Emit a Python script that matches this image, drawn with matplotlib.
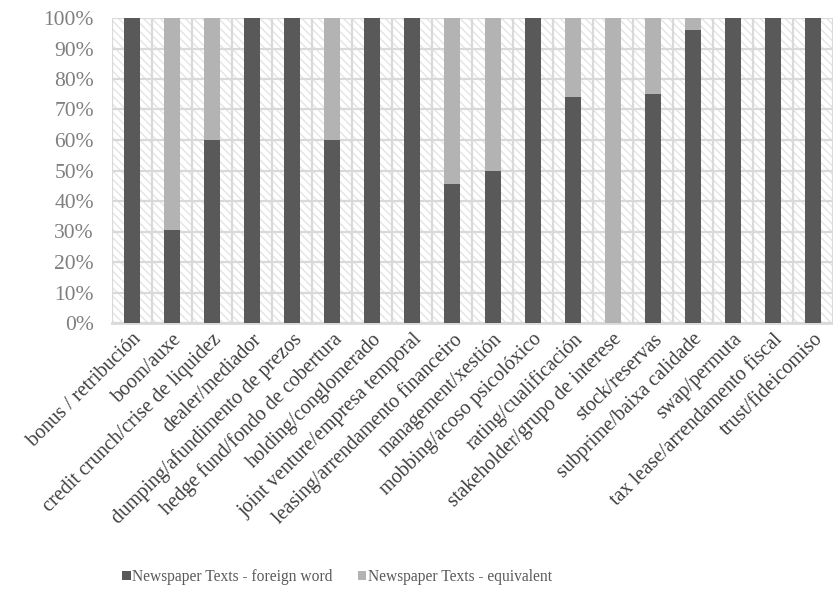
import matplotlib.pyplot as plt
from matplotlib.patches import Patch
from matplotlib.ticker import FixedLocator, PercentFormatter
import numpy as np

plt.rcParams["font.family"] = ["Liberation Serif", "DejaVu Sans"]

terms = ["bonus / retribución", "boom/auxe", "credit crunch/crise de liquidez",
         "dealer/mediador", "dumping/afundimento de prezos",
         "hedge fund/fondo de cobertura", "holding/conglomerado",
         "joint venture/empresa temporal", "leasing/arrendamento financeiro",
         "management/xestión", "mobbing/acoso psicolóxico",
         "rating/cualificación", "stakeholder/grupo de interese",
         "stock/reservas", "subprime/baixa calidade", "swap/permuta",
         "tax lease/arrendamento fiscal", "trust/fideicomiso"]

# share of each term in the newspaper texts (percent)
foreign = [100, 30.5, 60, 100, 100, 60, 100, 100, 45.5, 50, 100, 74, 0, 75, 96, 100, 100, 100]
equivalent = [100 - v for v in foreign]

dark = "#595959"
light = "#b3b3b3"
grid = "#d9d9d9"

fig = plt.figure(figsize=(8.33, 6.0), dpi=100)
ax = fig.add_axes([112 / 833, 1 - 323 / 600, 721 / 833, 305 / 600])

# hatched plot area
ax.patch.set_facecolor("white")
ax.patch.set_hatch("\\\\\\\\")
ax.patch.set_edgecolor("#e4e4e4")
ax.patch.set_linewidth(0)

x = np.arange(len(terms))
ax.bar(x, foreign, width=0.4, color=dark, zorder=3)
ax.bar(x, equivalent, width=0.4, bottom=foreign, color=light, zorder=3)

ax.set_xlim(-0.5, len(terms) - 0.5)
ax.set_ylim(0, 100)
ax.set_yticks(np.arange(0, 101, 10))
ax.yaxis.set_major_formatter(PercentFormatter(decimals=0))

ax.set_xticks(x)
ax.set_xticklabels(terms, rotation=45, ha="right", va="top",
                   rotation_mode="anchor", fontsize=14.5, color="#404040")
ax.xaxis.set_minor_locator(FixedLocator(np.arange(-0.5, len(terms), 1)))

ax.tick_params(axis="both", which="both", length=0)
ax.tick_params(axis="y", pad=13, labelsize=15.5, labelcolor="#7f7f7f")
ax.tick_params(axis="x", pad=5)

ax.grid(axis="y", which="major", color=grid, linewidth=1.6, zorder=1)
ax.grid(axis="x", which="minor", color=grid, linewidth=1.6, zorder=1)
ax.set_axisbelow(True)

for side in ["left", "right", "top"]:
    ax.spines[side].set_visible(False)
ax.spines["bottom"].set_color(grid)
ax.spines["bottom"].set_linewidth(2)

handles = [Patch(facecolor=dark, label="Newspaper Texts - foreign word"),
           Patch(facecolor=light, label="Newspaper Texts - equivalent")]
fig.legend(handles=handles, loc="center", bbox_to_anchor=(337 / 833, 1 - 577 / 600),
           ncol=2, frameon=False, handlelength=0.55, handleheight=0.55,
           handletextpad=0.1, columnspacing=1.6,
           prop={"size": 11.2}, labelcolor="#595959")

fig.savefig("out.png", dpi=100)
